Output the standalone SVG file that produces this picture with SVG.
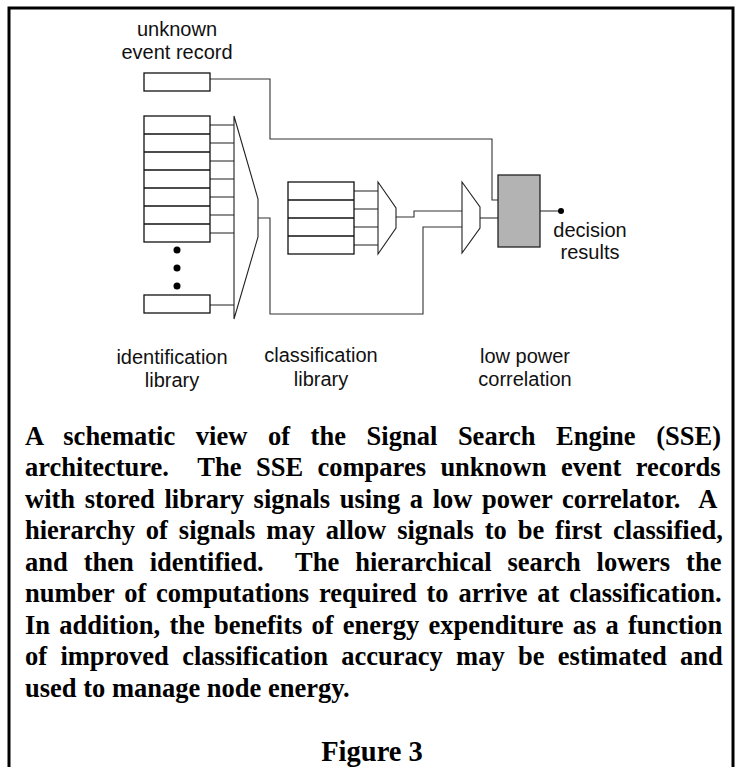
<svg xmlns="http://www.w3.org/2000/svg" width="739" height="767" viewBox="0 0 739 767">
  <style>
    .frame { fill: none; stroke: #000; stroke-width: 3; }
    .box { fill: #fff; stroke: #111; stroke-width: 1.3; }
    .row { stroke: #111; stroke-width: 1.3; }
    .mux { fill: #fff; stroke: #222; stroke-width: 1.1; stroke-linejoin: miter; }
    .wire { fill: none; stroke: #333; stroke-width: 1.1; }
    .corr { fill: #b3b3b3; stroke: #222; stroke-width: 1.3; }
    .dot { fill: #000; }
    .lbl { font-family: "Liberation Sans", Arial, sans-serif; font-size: 20px; fill: #111; text-anchor: middle; }
    .cap { font-family: "Liberation Serif", "Times New Roman", serif; font-size: 26.5px; font-weight: bold; fill: #000; white-space: pre; }
    .fig { font-family: "Liberation Serif", "Times New Roman", serif; font-size: 28.5px; font-weight: bold; fill: #000; text-anchor: middle; }
  </style>

  <!-- page frame (bottom edge runs off the page) -->
  <rect class="frame" x="9" y="8" width="724" height="820"/>

  <!-- connectors -->
  <g id="connectors">
    <!-- unknown event record to correlator -->
    <polyline class="wire" points="210,79 270,79 270,139 492,139 492,200 498,200"/>
    <!-- identification library rows into selector -->
    <line class="wire" x1="210" y1="125" x2="234" y2="125"/>
    <line class="wire" x1="210" y1="143" x2="234" y2="143"/>
    <line class="wire" x1="210" y1="161" x2="234" y2="161"/>
    <line class="wire" x1="210" y1="179" x2="234" y2="179"/>
    <line class="wire" x1="210" y1="197" x2="234" y2="197"/>
    <line class="wire" x1="210" y1="215" x2="234" y2="215"/>
    <line class="wire" x1="210" y1="233" x2="234" y2="233"/>
    <line class="wire" x1="210" y1="305" x2="234" y2="305"/>
    <!-- identification selector to correlator selector -->
    <polyline class="wire" points="258,218 270,218 270,314 423,314 423,227 462,227"/>
    <!-- classification library rows into selector -->
    <line class="wire" x1="354" y1="191" x2="378" y2="191"/>
    <line class="wire" x1="354" y1="209" x2="378" y2="209"/>
    <line class="wire" x1="354" y1="227" x2="378" y2="227"/>
    <line class="wire" x1="354" y1="245" x2="378" y2="245"/>
    <!-- classification selector to correlator selector -->
    <polyline class="wire" points="396,217 414,217 414,211 462,211"/>
    <!-- correlator selector to correlator -->
    <line class="wire" x1="480" y1="218" x2="498" y2="218"/>
    <!-- decision output -->
    <line class="wire" x1="540" y1="211" x2="561" y2="211"/>
    <circle class="dot" cx="561" cy="211" r="3"/>
  </g>

  <!-- unknown event record -->
  <g id="unknown-record">
    <rect class="box" x="144" y="73" width="66" height="18"/>
    <text class="lbl" x="177" y="36">unknown</text>
    <text class="lbl" x="177" y="59">event record</text>
  </g>

  <!-- identification library -->
  <g id="identification-library">
    <rect class="box" x="144" y="116" width="66" height="126"/>
    <line class="row" x1="144" y1="134" x2="210" y2="134"/>
    <line class="row" x1="144" y1="152" x2="210" y2="152"/>
    <line class="row" x1="144" y1="170" x2="210" y2="170"/>
    <line class="row" x1="144" y1="188" x2="210" y2="188"/>
    <line class="row" x1="144" y1="206" x2="210" y2="206"/>
    <line class="row" x1="144" y1="224" x2="210" y2="224"/>
    <circle class="dot" cx="177" cy="250" r="3.5"/>
    <circle class="dot" cx="177" cy="268" r="3.5"/>
    <circle class="dot" cx="177" cy="286" r="3.5"/>
    <rect class="box" x="144" y="295" width="66" height="18"/>
    <text class="lbl" x="172" y="364">identification</text>
    <text class="lbl" x="172" y="387">library</text>
  </g>

  <!-- identification selector -->
  <g id="identification-selector">
    <polygon class="mux" points="234,116 258,199 258,237 234,319"/>
  </g>

  <!-- classification library -->
  <g id="classification-library">
    <rect class="box" x="288" y="182" width="66" height="72"/>
    <line class="row" x1="288" y1="200" x2="354" y2="200"/>
    <line class="row" x1="288" y1="218" x2="354" y2="218"/>
    <line class="row" x1="288" y1="236" x2="354" y2="236"/>
    <text class="lbl" x="321" y="362">classification</text>
    <text class="lbl" x="321" y="386">library</text>
  </g>

  <!-- classification selector -->
  <g id="classification-selector">
    <polygon class="mux" points="378,182 396,208 396,228 378,254"/>
  </g>

  <!-- correlator input selector -->
  <g id="correlator-selector">
    <polygon class="mux" points="462,182 480,207 480,228 462,253"/>
  </g>

  <!-- low power correlator -->
  <g id="correlator">
    <rect class="corr" x="498" y="175" width="42" height="72"/>
    <text class="lbl" x="525" y="363">low power</text>
    <text class="lbl" x="525" y="386">correlation</text>
  </g>

  <!-- decision results -->
  <g id="decision-results">
    <text class="lbl" x="590" y="237">decision</text>
    <text class="lbl" x="590" y="259">results</text>
  </g>

  <!-- caption, justified between x=25 and x=723 -->
  <g id="caption">
    <text class="cap" xml:space="preserve" x="25" y="444.5" word-spacing="14.0">A schematic view of the Signal Search Engine (SSE)</text>
    <text class="cap" xml:space="preserve" x="25" y="476" word-spacing="7.8">architecture.  The SSE compares unknown event records</text>
    <text class="cap" xml:space="preserve" x="25" y="507.6" word-spacing="3.0">with stored library signals using a low power correlator.  A</text>
    <text class="cap" xml:space="preserve" x="25" y="539.2" word-spacing="4.3">hierarchy of signals may allow signals to be first classified,</text>
    <text class="cap" xml:space="preserve" x="25" y="570.7" word-spacing="9.3">and then identified.  The hierarchical search lowers the</text>
    <text class="cap" xml:space="preserve" x="25" y="602.3" word-spacing="3.2">number of computations required to arrive at classification.</text>
    <text class="cap" xml:space="preserve" x="25" y="633.9" word-spacing="2.6">In addition, the benefits of energy expenditure as a function</text>
    <text class="cap" xml:space="preserve" x="25" y="665.4" word-spacing="6.7">of improved classification accuracy may be estimated and</text>
    <text class="cap" xml:space="preserve" x="25" y="697">used to manage node energy.</text>
  </g>

  <g id="figure-title">
    <text class="fig" x="372" y="761">Figure 3</text>
  </g>
</svg>
